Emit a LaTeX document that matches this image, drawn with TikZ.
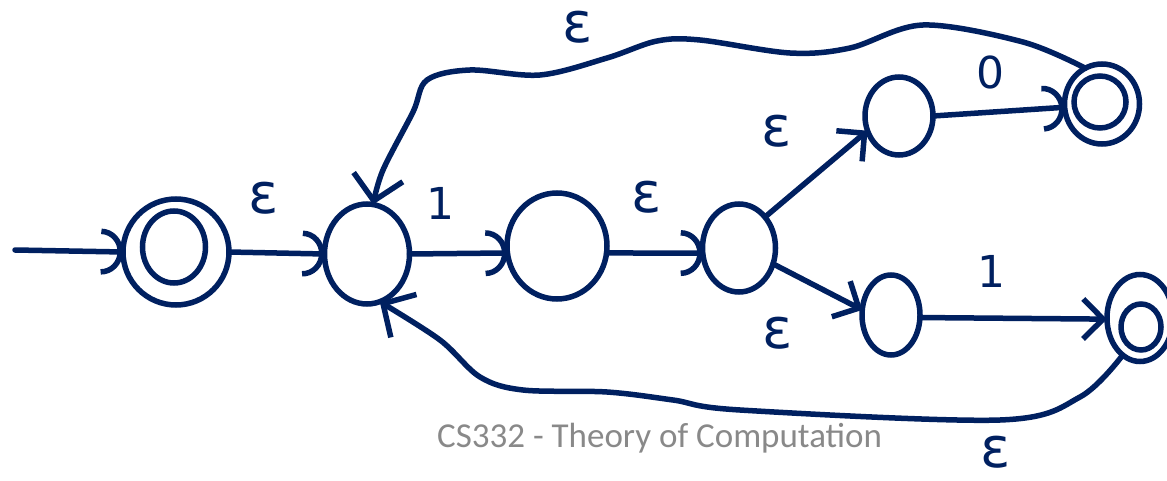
\documentclass[tikz,border=0pt]{standalone}
\usepackage{fontspec}
\newfontfamily\labfont{DejaVu Sans}
\newfontfamily\footfont{Carlito}
\usetikzlibrary{arrows.meta,shapes.geometric}
\definecolor{inkc}{RGB}{0,32,96}
\definecolor{footc}{RGB}{137,137,137}
\begin{document}
\begin{tikzpicture}[x=1pt,y=-1pt,
  state/.style={ellipse, draw=inkc, line width=5.5pt, inner sep=0pt, outer sep=0pt},
  ink/.style={draw=inkc, line width=5.5pt, line cap=round, line join=round},
  arcarrow/.style={ink, -{Arc Barb[length=22pt,width=46pt]}},
  chev/.style={ink, -{Straight Barb[length=20pt,width=40pt]}},
  chevbig/.style={ink, -{Straight Barb[length=24pt,width=50pt]}},
  eps/.style={text=inkc, font=\labfont\fontsize{56}{56}\selectfont, inner sep=0pt},
  dig/.style={text=inkc, font=\labfont\fontsize{44}{44}\selectfont, inner sep=0pt}]
\fill[white] (0,0) rectangle (1167,481);
\useasboundingbox (0,0) rectangle (1167,481);

% states
\node[state, minimum width=106pt, minimum height=106pt] (q0) at (176,252) {};
\node[state, minimum width=63pt, minimum height=72pt] (q0i) at (174,247) {};
\node[state, minimum width=85pt, minimum height=100pt] (q1) at (367,254) {};
\node[state, minimum width=100pt, minimum height=106pt] (q2) at (557,246) {};
\node[state, minimum width=73pt, minimum height=88pt] (q3) at (739,248) {};
\node[state, minimum width=68pt, minimum height=78pt] (q4) at (899,116) {};
\node[state, minimum width=75pt, minimum height=80pt] (q5) at (1102,104) {};
\node[state, minimum width=52pt, minimum height=52pt] (q5i) at (1100,102) {};
\node[state, minimum width=58pt, minimum height=80pt] (q6) at (891,315) {};
\node[state, minimum width=66pt, minimum height=87pt] (q7) at (1140,318) {};
\node[state, minimum width=40pt, minimum height=46pt] (q7i) at (1141,327) {};

% start arrow
\coordinate (s) at (15,250);
\draw[arcarrow] (s) -- (q0.west);

% transitions
\draw[arcarrow] (q0.east) -- (q1.west);
\draw[arcarrow] (q1.east) -- (q2.188);
\draw[arcarrow] (q2.-8) -- (q3.188);
\draw[chev] (q3.50) -- (q4.205);
\draw[arcarrow] (q4.east) -- (q5.185);
\draw[chev] (q3.-25) -- (q6.170);
\draw[chev] (q6.-5) -- (q7.182);

\draw[chevbig] plot[smooth, tension=0.55] coordinates {(q5.115) (1023,42) (923,25) (850,48) (790,53) (700,40) (657,41) (607,58) (540,75) (470,70) (427,80) (413,112) (383,170) (q1.83)};
\draw[chevbig] plot[smooth, tension=0.55] coordinates {(q7.245) (1080,397) (1000,420) (740,410) (673,400) (607,392) (523,390) (480,377) (440,340) (q1.-75)};

% labels
\node[eps] (l01) at (264,198) {ε};
\node[dig] (l12) at (440,203) {1};
\node[eps] (l23) at (647,197) {ε};
\node[eps] (l34) at (777,131) {ε};
\node[dig] (l45) at (990,72) {0};
\node[eps] (l36) at (778,333) {ε};
\node[dig] (l67) at (991,271) {1};
\node[eps] (ltop) at (578,27) {ε};
\node[eps] (lbot) at (996,452) {ε};

% footer
\node[text=footc, font=\footfont\fontsize{35}{35}\selectfont, anchor=base west, inner sep=0pt] (foot) at (437,447) {CS332 - Theory of Computation};
\end{tikzpicture}
\end{document}
